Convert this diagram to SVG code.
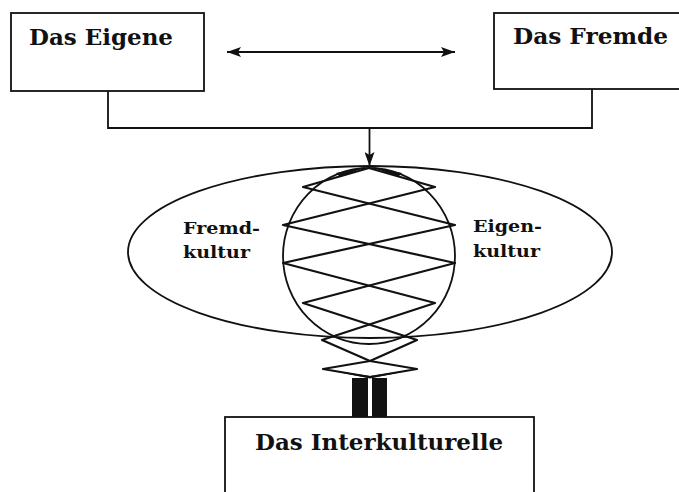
<svg xmlns="http://www.w3.org/2000/svg" width="679" height="492" viewBox="0 0 679 492">
<defs>
<style>
.box{fill:#fff;stroke:#111;stroke-width:1.8}
.ln{fill:none;stroke:#111;stroke-width:1.8}
.lat{fill:none;stroke:#111;stroke-width:2.2;stroke-linejoin:round;stroke-linecap:round}
.t{font-family:"DejaVu Serif","Liberation Serif",serif;font-weight:bold;fill:#111}
.big{font-size:22px}
.sm{font-size:17.5px}
</style>
<marker id="ah" viewBox="0 0 14 10" refX="14" refY="5" markerWidth="14" markerHeight="10" markerUnits="userSpaceOnUse" orient="auto-start-reverse">
<path d="M0,0 L14,5 L0,10 L3,5 Z" fill="#111"/>
</marker>
</defs>
<rect width="679" height="492" fill="#fff"/>
<g id="connectors">
<line class="ln" x1="227" y1="52" x2="455" y2="52" marker-start="url(#ah)" marker-end="url(#ah)"/>
<polyline class="ln" points="108,91 108,128 592,128 592,89"/>
<line class="ln" x1="369.5" y1="128" x2="369.5" y2="166" marker-end="url(#ah)"/>
</g>
<g id="eigene">
<rect class="box" x="11" y="13" width="193" height="78"/>
<text class="t big" x="29" y="45" textLength="144" lengthAdjust="spacingAndGlyphs">Das Eigene</text>
</g>
<g id="fremde">
<rect class="box" x="494" y="13" width="190" height="76"/>
<text class="t big" x="513" y="44" textLength="155" lengthAdjust="spacingAndGlyphs">Das Fremde</text>
</g>
<g id="kultur">
<ellipse class="ln" cx="370" cy="252" rx="242" ry="86"/>
<ellipse class="ln" cx="369" cy="256" rx="86" ry="88"/>
<polyline class="lat" points="369,168 303,187 455,225 283,263 435,303 322,340 370,361 417,369 370,377"/>
<polyline class="lat" points="369,168 435,187 283,225 455,263 303,303 417,340 370,361 323,369 370,377"/>
<polygon points="369,166 336,173 340,177" fill="#111"/>
<polygon points="369,166 402,173 398,177" fill="#111"/>
<polygon points="323,369 370,376 417,369 370,378.5" fill="#111"/>
<rect x="352" y="378" width="16" height="39" fill="#111"/>
<rect x="372" y="378" width="15" height="39" fill="#111"/>
<text class="t sm" x="183" y="234" textLength="77" lengthAdjust="spacingAndGlyphs">Fremd-</text>
<text class="t sm" x="183" y="258" textLength="67" lengthAdjust="spacingAndGlyphs">kultur</text>
<text class="t sm" x="473" y="232" textLength="69" lengthAdjust="spacingAndGlyphs">Eigen-</text>
<text class="t sm" x="473" y="257" textLength="67" lengthAdjust="spacingAndGlyphs">kultur</text>
</g>
<g id="interkulturelle">
<rect class="box" x="225" y="417" width="309" height="90"/>
<text class="t big" x="255" y="450" textLength="248" lengthAdjust="spacingAndGlyphs">Das Interkulturelle</text>
</g>
</svg>
